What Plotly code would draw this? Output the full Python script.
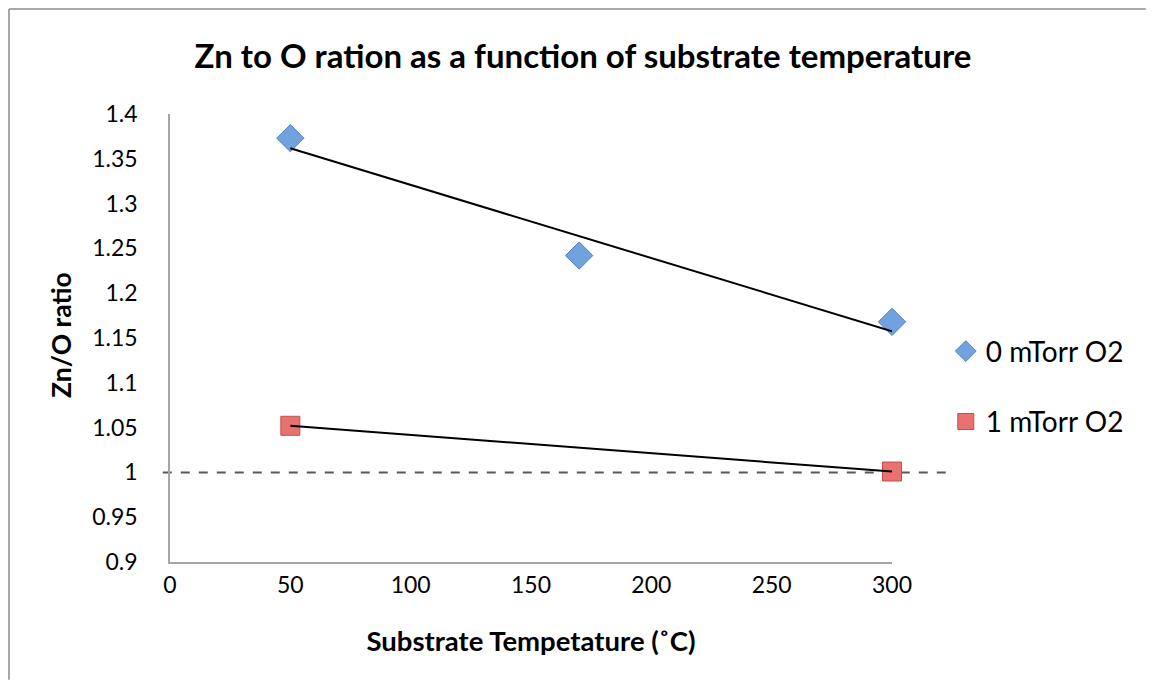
import numpy as np
import plotly.graph_objects as go

# Data
temp_0 = [50, 170, 300]
ratio_0 = [1.373, 1.242, 1.168]
temp_1 = [50, 300]
ratio_1 = [1.052, 1.001]

x_ticks = [0, 50, 100, 150, 200, 250, 300]
y_ticks = [0.9, 0.95, 1.0, 1.05, 1.1, 1.15, 1.2, 1.25, 1.3, 1.35, 1.4]
y_tick_text = ["0.9", "0.95", "1", "1.05", "1.1", "1.15", "1.2", "1.25", "1.3", "1.35", "1.4"]
ref_ratio = 1.0

# Colors
BLUE_FILL = "#70a2e0"
BLUE_EDGE = "#4f81bd"
RED_FILL = "#e8726f"
RED_EDGE = "#c0504d"
AXIS_GRAY = "#a6a6a6"
FRAME_GRAY = "#8c8c8c"
FONT = "Lato, 'Open Sans', sans-serif"


def linear_trend(xs, ys):
    # least squares line, evaluated at the data extremes
    k, b = np.polyfit(xs, ys, 1)
    xe = [min(xs), max(xs)]
    return xe, [k * v + b for v in xe]


fig = go.Figure()

# Markers
fig.add_trace(go.Scatter(
    x=temp_0, y=ratio_0, mode="markers", name="0 mTorr O2",
    legendgroup="a", cliponaxis=False,
    marker=dict(symbol="diamond", size=21, color=BLUE_FILL, line=dict(color=BLUE_EDGE, width=1)),
))
fig.add_trace(go.Scatter(
    x=temp_1, y=ratio_1, mode="markers", name="1 mTorr O2",
    legendgroup="b", cliponaxis=False,
    marker=dict(symbol="square", size=19, color=RED_FILL, line=dict(color=RED_EDGE, width=1)),
))

# Trendlines drawn on top of the markers
tx0, ty0 = linear_trend(temp_0, ratio_0)
tx1, ty1 = linear_trend(temp_1, ratio_1)
fig.add_trace(go.Scatter(x=tx0, y=ty0, mode="lines", showlegend=False,
                         line=dict(color="black", width=2), hoverinfo="skip"))
fig.add_trace(go.Scatter(x=tx1, y=ty1, mode="lines", showlegend=False,
                         line=dict(color="black", width=2), hoverinfo="skip"))

# Dashed reference line at ratio = 1 (runs past the plot on the right)
fig.add_shape(type="line", xref="paper", yref="y", x0=-0.01, x1=1.08, y0=ref_ratio, y1=ref_ratio,
              line=dict(color="#595959", width=2, dash="dash"), layer="below")

# Chart frame (top and left edges visible), kept inside the figure
fig.add_shape(type="line", xref="paper", yref="paper", x0=-0.2230, x1=1.3515, y0=1.2344, y1=1.2344,
              line=dict(color=FRAME_GRAY, width=1.5))
fig.add_shape(type="line", xref="paper", yref="paper", x0=-0.2230, x1=-0.2230, y0=1.2344, y1=-0.263,
              line=dict(color=FRAME_GRAY, width=1.5))

# Y axis title placed as a rotated annotation
fig.add_annotation(text="<b>Zn/O ratio</b>", xref="paper", yref="paper",
                   x=-0.151, y=0.5067, xanchor="center", yanchor="middle",
                   textangle=-90, showarrow=False,
                   font=dict(size=26.5, color="black"))

fig.update_xaxes(
    range=[0, 300], tickvals=x_ticks, showgrid=False, zeroline=False,
    showline=True, linecolor=AXIS_GRAY, linewidth=1.5, ticks="",
    tickfont=dict(size=23, color="black"), ticklabelstandoff=2,
    title=dict(text="<b>Substrate Tempetature (˚C)</b>", font=dict(size=27.5, color="black"), standoff=34),
)
fig.update_yaxes(
    range=[0.9, 1.4], tickvals=y_ticks, ticktext=y_tick_text, showgrid=False, zeroline=False,
    showline=True, linecolor=AXIS_GRAY, linewidth=1.5, ticks="",
    tickfont=dict(size=23, color="black"), ticklabelstandoff=26,
)

fig.update_layout(
    width=1138, height=672,
    margin=dict(l=162, r=254, t=106, b=118),
    paper_bgcolor="white", plot_bgcolor="white",
    font=dict(family=FONT, color="black"),
    title=dict(text="<b>Zn to O ration as a function of substrate temperature</b>",
               x=575 / 1138, xanchor="center", y=1 - 48 / 672, yanchor="middle",
               font=dict(size=33, color="black")),
    showlegend=True,
    legend=dict(x=1.0745, y=0.392, xanchor="left", yanchor="middle",
                traceorder="grouped", tracegroupgap=31,
                font=dict(size=28, color="black"), itemwidth=30,
                bgcolor="rgba(0,0,0,0)"),
)

fig.write_html("out.html")
